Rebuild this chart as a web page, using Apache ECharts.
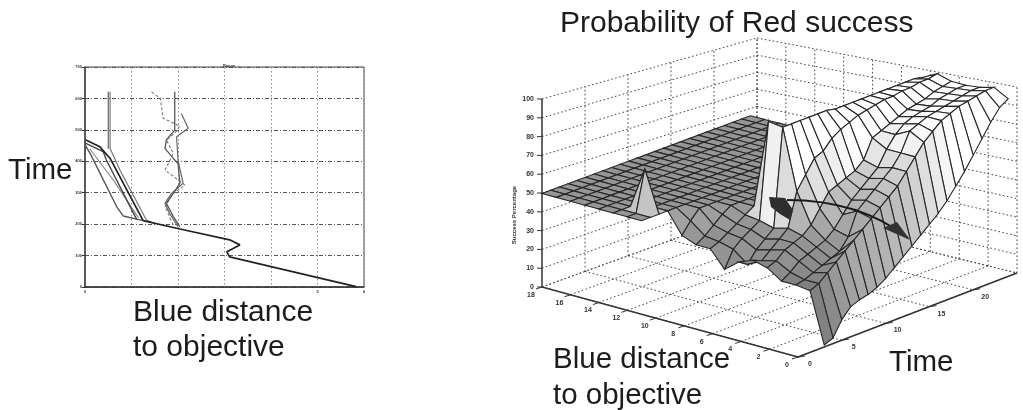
<!DOCTYPE html>
<html><head><meta charset="utf-8">
<style>html,body{margin:0;padding:0;background:#fff}#c{width:1023px;height:410px;filter:blur(0.45px)}</style>
<script src="https://cdn.jsdelivr.net/npm/echarts@6/dist/echarts.min.js"></script>
</head><body><div id="c"></div>
<script>
// ---------- left chart: Time vs Blue distance ----------
const leftYTicks = [0,100,200,300,400,500,600,700];
const leftXTicks = [0,1,2,3,4,5,6];
const trunk = [[5.83,1],[3.11,96],[3.05,112],[3.33,134],[3.11,150],[1.97,187],[1.25,211]];
const runA = [[1.25,211],[0.54,409],[0.32,446],[0.02,468]];
const runB = [[1.11,215],[0.46,404],[0.39,431],[0.02,457]];
const runC = [[1.25,211],[0.82,226],[0.68,256],[0.11,425],[0,452]];
const runD = [[1.5,202],[1.32,213],[0.75,372],[0.54,441],[0.54,621]];
const runE = [[1.15,220],[0.61,340],[0.1,440]];
const runF = [[0.5,440],[0.5,621]];
const runG = [[2.0,192],[1.82,234],[1.72,266],[1.86,298],[2.11,330],[2.0,404],[1.97,478],[2.22,505],[2.07,552]];
const runH = [[1.93,621],[1.93,499],[1.75,468],[1.72,441],[1.9,409],[2.0,393],[2.04,330],[1.9,298],[1.75,266],[1.9,224],[2.04,192]];
const runI = [[1.43,621],[1.62,600],[1.68,537],[2.04,512],[1.93,489],[1.75,468],[1.9,425],[1.72,372],[2.15,324],[1.9,298],[1.72,256],[1.9,197]];

// ---------- right chart: surface, rows by Blue distance, columns by Time ----------
const distTicks = [0,2,4,6,8,10,12,14,16,18];
const timeTicks = [0,5,10,15,20,25];
const timeLabels = [0,5,10,15,20];
const pctTicks = [0,10,20,30,40,50,60,70,80,90,100];
const d0 = [null,null,null,1,3,11,16,18,19,21,24,28,32,36,40,44,48,53,59,65,72,79,86,92,95];
const d1 = [null,null,null,28,30,34,38,42,46,50,54,58,62,66,72,78,84,88,92,94,96,97,98,99,99];
const d2 = [null,null,null,29,30,32,34,36,38,44,56,60,64,68,72,78,88,90,92,93,94,95,96,97,97];
const d3 = [null,null,null,29,32,36,38,40,42,46,52,58,62,66,70,78,84,88,90,91,92,94,95,96,96];
const d4 = [null,null,null,34,36,40,42,44,48,55,62,64,66,68,72,82,84,86,88,90,91,92,94,95,96];
const d5 = [null,null,null,36,34,38,42,46,64,71,78,80,85,88,90,92,93,94,95,95,96,96,97,97,98];
const d6 = [null,null,null,33,30,36,40,44,96,96,96,96,96,96,95,95,95,95,95,95,95,95,95,95,94];
const d7 = [null,null,null,27,36,40,43,46,97,50,50,50,50,50,50,50,50,50,50,50,50,50,50,50,50];
const d8 = [null,null,null,36,38,41,44,47,50,50,50,50,50,50,50,50,50,50,50,50,50,50,50,50,50];
const d9 = [null,null,null,36,39,43,47,50,50,50,50,50,50,50,50,50,50,50,50,50,50,50,50,50,50];
const d10 = [null,null,null,39,45,50,50,50,50,50,50,50,50,50,50,50,50,50,50,50,50,50,50,50,50];
const d11 = [50,50,50,50,50,50,50,50,50,50,50,50,50,50,50,50,50,50,50,50,50,50,50,50,50];
const d12 = [50,50,72,50,50,50,50,50,50,50,50,50,50,50,50,50,50,50,50,50,50,50,50,50,50];
const d13 = [50,50,50,50,50,50,50,50,50,50,50,50,50,50,50,50,50,50,50,50,50,50,50,50,50];
const d14 = d13, d15 = d13, d16 = d13, d17 = d13, d18 = d13;
const surface = [d0,d1,d2,d3,d4,d5,d6,d7,d8,d9,d10,d11,d12,d13,d14,d15,d16,d17,d18];

// projection of the 3-D box on to the page plane (hidden scene axes)
const DMAX = 18, TMAX = 25;
const floorC = {o:[798,357], d:[542,287], t:[1017,273], b:[757,209]};
const wallTop = {o:[798,165], d:[542,99], t:[1017,87], b:[757,38]};
const surfTop = {o:[798,170], d:[542,100], t:[1017,86], b:[761,16]};
function bil(c,u,v){return [0,1].map(k=>c.o[k]*(1-u)*(1-v)+c.d[k]*u*(1-v)+c.t[k]*(1-u)*v+c.b[k]*u*v);}
function proj(top,d,t,z){
  const u=d/DMAX,v=t/TMAX,f=bil(floorC,u,v),h=bil(top,u,v),w=z/100;
  return [f[0]+(h[0]-f[0])*w,f[1]+(h[1]-f[1])*w];
}

// build lists for custom series
const cells=[];
for(let d=DMAX-1;d>=0;d--)for(let t=23;t>=0;t--){
  if(surface[d][t]!==null&&surface[d+1][t]!==null&&surface[d][t+1]!==null&&surface[d+1][t+1]!==null)cells.push([d,t]);
}
const walls=[];
pctTicks.forEach(z=>{walls.push([DMAX,0,z,DMAX,TMAX,z]);walls.push([DMAX,TMAX,z,0,TMAX,z]);});
timeTicks.forEach(t=>{if(t>0)walls.push([DMAX,t,0,DMAX,t,100]);walls.push([DMAX,t,0,0,t,0]);});
distTicks.forEach(d=>{walls.push([d,TMAX,0,d,TMAX,100]);walls.push([d,0,0,d,TMAX,0]);});
const axesLines=[[0,0,0,DMAX,0,0],[0,0,0,0,TMAX,0],[DMAX,0,0,DMAX,0,100]];
const labelItems=[];
pctTicks.forEach(z=>labelItems.push([DMAX,0,z,-8,0,String(z),'right',-5,0]));
distTicks.forEach(d=>labelItems.push([d,0,0,-11,8,String(d),'center',-6,2]));
timeLabels.forEach(t=>labelItems.push([0,t,0,12,7,String(t),'center',7,-1]));

function shade(mean,range){
  const base=mean<=50?90+1.2*mean:150+(mean-50)*2.4;
  const lift=Math.min(40,1.5*range)*Math.min(1,mean/30);
  const g=Math.max(0,Math.min(255,Math.round(base+lift)));
  return 'rgb('+g+','+g+','+g+')';
}
function renderCell(params,api){
  const d=api.value(0),t=api.value(1);
  const q=[[d,t],[d+1,t],[d+1,t+1],[d,t+1]];
  const zs=q.map(p=>surface[p[0]][p[1]]);
  const pts=q.map((p,i)=>api.coord(proj(surfTop,p[0],p[1],zs[i])));
  const m=zs.reduce((s,v)=>s+v,0)/4;
  return {type:'polygon',shape:{points:pts},style:{fill:shade(m,Math.max(...zs)-Math.min(...zs)),stroke:'#262626',lineWidth:1.1}};
}
function segment(lineStyle){
  return function(params,api){
    const a=api.coord(proj(wallTop,api.value(0),api.value(1),api.value(2)));
    const b=api.coord(proj(wallTop,api.value(3),api.value(4),api.value(5)));
    return {type:'line',shape:{x1:a[0],y1:a[1],x2:b[0],y2:b[1]},style:lineStyle};
  };
}
function renderLabel(params,api){
  const p=api.coord(proj(wallTop,api.value(0),api.value(1),api.value(2)));
  return {type:'group',children:[
    {type:'line',shape:{x1:p[0],y1:p[1],x2:p[0]+api.value(7),y2:p[1]+api.value(8)},style:{stroke:'#333',lineWidth:1}},
    {type:'text',style:{x:p[0]+api.value(3),y:p[1]+api.value(4),text:api.value(5),align:api.value(6),verticalAlign:'middle',
      font:'bold 7px "Liberation Sans"',fill:'#333'}}]};
}
const lineOf=(data,color,width,dash)=>({type:'line',xAxisIndex:0,yAxisIndex:0,data,symbol:'none',silent:true,
  lineStyle:{color,width,type:dash||'solid'}});
const customBase={type:'custom',xAxisIndex:1,yAxisIndex:1,silent:true,clip:false,animation:false};
const labelText=(text,x,y,size)=>({type:'text',x,y,z:50,style:{text,font:size+'px "Liberation Sans"',fill:'#1c1c1c',verticalAlign:'middle'}});

const chart=echarts.init(document.getElementById('c'),null,{renderer:'canvas'});
chart.setOption({
  animation:false,backgroundColor:'#fff',
  title:{text:'Range',left:224,top:59,textAlign:'center',textStyle:{fontSize:4,fontWeight:'bold',color:'#333'}},
  grid:[
    {left:85,right:659,top:67,bottom:123,show:true,borderColor:'#444',borderWidth:1,backgroundColor:'transparent'},
    {left:0,right:0,top:0,bottom:0}
  ],
  xAxis:[
    {type:'value',gridIndex:0,min:0,max:6,interval:1,
      axisLine:{lineStyle:{color:'#333',width:1.5}},axisTick:{show:false},
      axisLabel:{fontSize:4,fontWeight:'bold',color:'#333',margin:3,formatter:v=>(leftXTicks.includes(v)&&(v===0||v>=5))?String(v):''},
      splitLine:{lineStyle:{color:'#8a8a8a',type:[1.5,2.5],width:1}}},
    {type:'value',gridIndex:1,min:0,max:1023,show:false,splitLine:{show:false}}
  ],
  yAxis:[
    {type:'value',gridIndex:0,min:0,max:700,interval:100,
      axisLine:{lineStyle:{color:'#444',width:1.5}},axisTick:{show:true,length:3,inside:false,lineStyle:{color:'#333'}},
      axisLabel:{fontSize:4,fontWeight:'bold',color:'#333',margin:3,formatter:v=>leftYTicks.includes(v)?String(v):''},
      splitLine:{lineStyle:{color:'#555',type:[4,2,1,2],width:1}}},
    {type:'value',gridIndex:1,min:0,max:410,inverse:true,show:false,splitLine:{show:false}}
  ],
  series:[
    lineOf(runI,'#777',1.1,[3,2]),
    lineOf(runG,'#666',1.2),
    lineOf(runH,'#555',1.3),
    lineOf(runE,'#888',1.1),
    lineOf(runD,'#777',1.2),
    lineOf(runF,'#555',1.1),
    lineOf(runC,'#555',1.4),
    lineOf(runB,'#444',1.4),
    lineOf(runA,'#222',1.7),
    lineOf(trunk,'#222',1.7),
    Object.assign({},customBase,{data:walls,encode:{x:0,y:1},renderItem:segment({stroke:'#444',lineWidth:1,lineDash:[1.6,2.4]})}),
    Object.assign({},customBase,{data:axesLines,encode:{x:0,y:1},renderItem:segment({stroke:'#333',lineWidth:1.5})}),
    Object.assign({},customBase,{data:labelItems,encode:{x:0,y:1},renderItem:renderLabel}),
    Object.assign({},customBase,{data:cells,encode:{x:0,y:1},renderItem:renderCell})
  ],
  graphic:{elements:[
    labelText('Time',8,171,29.5),
    labelText('Blue distance',133,313,30),
    labelText('to objective',133,348,30),
    labelText('Probability of Red success',560,24,30),
    labelText('Blue distance',553,360,29.5),
    labelText('to objective',553,396,29.5),
    labelText('Time',889,363,29.5),
    {type:'text',x:514,y:215,z:50,rotation:Math.PI/2,style:{text:'Success Percentage',font:'bold 6px "Liberation Sans"',fill:'#333',align:'center',verticalAlign:'middle'}},
    {type:'bezierCurve',z:50,shape:{x1:787,y1:200,cpx1:835,cpy1:200,cpx2:875,cpy2:212,x2:908,y2:238},style:{stroke:'#1a1a1a',lineWidth:2,fill:null}},
    {type:'polygon',z:50,shape:{points:[[883,228],[897,222],[910,240]]},style:{fill:'#333'}},
    {type:'polygon',z:50,shape:{points:[[769,197],[785,198],[793,210],[790,220],[780,214],[771,207]]},style:{fill:'#2e2e2e'}}
  ]}
});
</script></body></html>
